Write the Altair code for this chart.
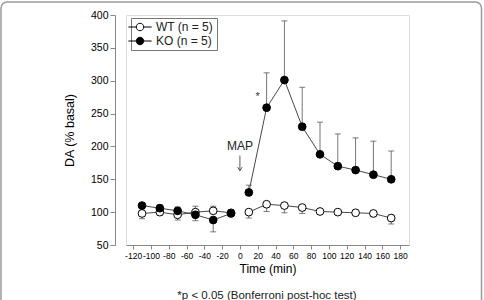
import altair as alt
import pandas as pd

# ---- data ----
times = [-110, -90, -70, -50, -30, -10, 10, 30, 50, 70, 90, 110, 130, 150, 170]
wt_mean = [98, 100, 96, 100, 102, 99, 100, 112, 110, 107, 101, 100, 99, 98, 91]
wt_err_end = [90, 95, 88, 109, 109, 104, 91, 101, 99, 98, 97, 98, 97, 93, 82]
ko_mean = [110, 106, 102, 96, 88, 98, 130, 259, 301, 230, 188, 170, 164, 157, 150]
ko_err_end = [114, 111, 108, 87, 70, 94, 141, 312, 391, 290, 237, 219, 213, 208, 193]
series_names = ["WT (n = 5)", "KO (n = 5)"]
x_ticks = list(range(-120, 181, 20))
y_ticks = list(range(50, 401, 50))

rows = []
for name, mean, end in [(series_names[0], wt_mean, wt_err_end),
                        (series_names[1], ko_mean, ko_err_end)]:
    for t, m, e in zip(times, mean, end):
        rows.append({"time": t, "value": m, "err_end": e, "series": name,
                     "segment": "pre" if t < 0 else "post"})
df = pd.DataFrame(rows)

FONT = "Liberation Sans"
W, H = 283, 230

xs = alt.Scale(domain=[-128, 190], nice=False, zero=False)
ys = alt.Scale(domain=[50, 400], nice=False, zero=False)

x_axis = alt.Axis(values=x_ticks, title="Time (min)", grid=False,
                  labelFontSize=8.5, tickSize=4, labelPadding=2,
                  titleFontSize=12, titleFontWeight="normal",
                  titlePadding=4, labelFlush=False, labelOverlap=False,
                  labelExpr="datum.value < 0 ? '-' + abs(datum.value) : '' + datum.value")
y_axis = alt.Axis(values=y_ticks, title="DA (% basal)", grid=False,
                  labelFontSize=10.5, tickSize=5, labelPadding=2,
                  offset=11, titleFontSize=12.5,
                  titleFontWeight="normal", titlePadding=14,
                  labelOverlap=False)


def X(field):
    return alt.X(field, scale=xs, axis=x_axis)


def Y(field):
    return alt.Y(field, scale=ys, axis=y_axis)


base = alt.Chart(df)

lines = base.mark_line(color="#333", strokeWidth=0.9).encode(
    x=X("time:Q"), y=Y("value:Q"), detail=["series:N", "segment:N"])

err = base.mark_rule(color="#777", strokeWidth=1).encode(
    x=X("time:Q"), y=Y("value:Q"), y2="err_end:Q")

caps = base.mark_tick(color="#444", orient="horizontal", size=6,
                      thickness=1).encode(x=X("time:Q"), y=Y("err_end:Q"))

legend_path = ("M -3.1 0 L -1 0 M 1 0 L 3.1 0 "
               "M -1 0 A 1 1 0 1 1 1 0 A 1 1 0 1 1 -1 0 Z")

points = base.mark_point(shape="circle", size=60, filled=True,
                         stroke="black", strokeWidth=1, opacity=1).encode(
    x=X("time:Q"), y=Y("value:Q"),
    fill=alt.Fill("series:N",
                  scale=alt.Scale(domain=series_names, range=["white", "black"]),
                  legend=alt.Legend(title=None, orient="none", legendX=5,
                                    legendY=3, symbolType=legend_path,
                                    symbolSize=56, symbolStrokeColor="black",
                                    symbolStrokeWidth=1, labelFontSize=12,
                                    labelFont=FONT, labelColor="#222",
                                    labelOffset=10, strokeColor="#777",
                                    padding=3, rowPadding=2,
                                    fillColor="white")))

ann_df = pd.DataFrame({"time": [20], "value": [275], "label": ["*"]})
star = alt.Chart(ann_df).mark_text(fontSize=11, font=FONT, color="#333").encode(
    x=X("time:Q"), y=Y("value:Q"), text="label:N")

map_df = pd.DataFrame({"time": [0], "value": [200], "label": ["MAP"]})
map_text = alt.Chart(map_df).mark_text(fontSize=12, font=FONT, color="#222").encode(
    x=X("time:Q"), y=Y("value:Q"), text="label:N")

# arrow under "MAP": shaft from 186 to 163, open head at 163
arrow_df = pd.DataFrame({"time": [0], "top": [186], "tip": [163]})
arrow_shaft = alt.Chart(arrow_df).mark_rule(color="#444", strokeWidth=0.9).encode(
    x=X("time:Q"), y=Y("top:Q"), y2="tip:Q")
arrow_head = alt.Chart(arrow_df).mark_point(
    shape="M -1 -1.6 L 0 0 L 1 -1.6", size=20, filled=False, color="#444",
    strokeWidth=0.9, opacity=1).encode(x=X("time:Q"), y=Y("tip:Q"))

one = pd.DataFrame({"a": [0]})
caption = alt.Chart(one).mark_text(fontSize=11.5, font=FONT, color="#222",
                                   align="center", baseline="top").encode(
    x=alt.value(141), y=alt.value(275),
    text=alt.value("*p < 0.05 (Bonferroni post-hoc test)"))

frame = alt.Chart(one).mark_rect(fill=None, fillOpacity=0, stroke="#999",
                                 strokeWidth=1.5, cornerRadius=6).encode(
    x=alt.value(-125), x2=alt.value(355.5), y=alt.value(-13), y2=alt.value(300))

chart = alt.layer(lines, frame, err, caps, points, star, map_text,
                  arrow_shaft, arrow_head, caption).properties(
    width=W, height=H,
    autosize=alt.AutoSizeParams(type="none"),
    padding={"left": 126, "top": 15, "right": 75, "bottom": 55},
).configure_view(stroke=None).configure_axis(
    domainColor="#999", tickColor="#999", labelColor="#333",
    titleColor="#333", labelFont=FONT, titleFont=FONT, labelOverlap=False
).configure(background="white")

chart.save("out.html", embed_options={"renderer": "svg", "actions": False})
